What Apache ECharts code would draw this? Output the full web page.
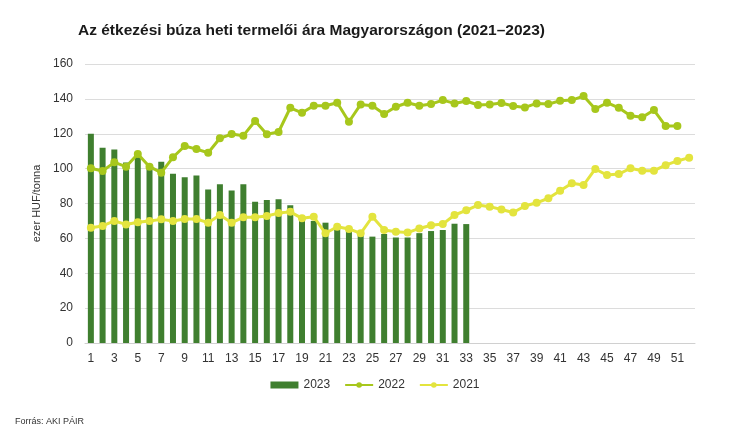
<!DOCTYPE html>
<html>
<head>
<meta charset="utf-8">
<script src="https://cdn.jsdelivr.net/npm/echarts@6/dist/echarts.min.js"></script>
<style>
html,body{margin:0;padding:0;background:#fff;}
#c{width:750px;height:442px;}
</style>
</head>
<body>
<div id="c"></div>
<script>
const weeks = Array.from({length: 52}, (_, i) => String(i + 1));
const yTicks = [0, 20, 40, 60, 80, 100, 120, 140, 160];
const s2023 = [120, 112, 111, 103.5, 108, 100.5, 104, 97, 95, 96, 88, 91, 87.5, 91, 81, 82, 82.5, 79, 72, 70, 69, 65.5, 64, 62, 61, 62.5, 60.5, 60.5, 63, 64.2, 64.8, 68.4, 68.2];
const s2022 = [100.2, 98.6, 103.6, 101.1, 108.4, 101.1, 97.7, 106.5, 113, 111.2, 109.1, 117.4, 119.8, 118.9, 127.3, 119.7, 121, 134.9, 132, 136.1, 136.1, 137.8, 126.9, 136.8, 136.1, 131.3, 135.5, 137.8, 136.1, 137, 139.3, 137.4, 138.8, 136.5, 136.8, 137.6, 135.9, 135.1, 137.4, 137, 138.9, 139.3, 141.6, 134.2, 137.8, 134.9, 130.3, 129.4, 133.6, 124.4, 124.4];
const s2021 = [66.1, 67.1, 70, 68, 69.2, 70, 70.9, 70, 71.1, 71.1, 69, 73.4, 69, 72.1, 72.1, 72.8, 74.5, 75.2, 71.5, 72.4, 62.9, 66.7, 65.4, 62.9, 72.4, 64.8, 63.8, 63.3, 65.7, 67.5, 68.2, 73.4, 76.1, 79.1, 78.2, 76.6, 74.8, 78.6, 80.4, 83, 87.3, 91.6, 90.6, 99.8, 96.3, 96.9, 100.2, 98.8, 98.8, 102, 104.4, 106.3];

const chart = echarts.init(document.getElementById('c'), null, {renderer: 'canvas'});
const font = 'Liberation Sans, Arial, sans-serif';
chart.setOption({
  animation: false,
  backgroundColor: '#ffffff',
  textStyle: {fontFamily: font},
  title: {
    text: 'Az étkezési búza heti termelői ára Magyarországon (2021–2023)',
    left: 73, top: 18,
    textStyle: {fontFamily: font, fontSize: 15.5, fontWeight: 'bold', color: '#1a1a1a'}
  },
  graphic: [{
    type: 'text', left: 15, top: 417,
    style: {text: 'Forrás: AKI PÁIR', fontFamily: font, fontSize: 9, fill: '#333'}
  }],
  legend: {
    bottom: 46, left: 'center',
    itemWidth: 28, itemHeight: 7, itemGap: 14,
    textStyle: {fontFamily: font, fontSize: 12, color: '#333'},
    data: [{name: '2023', icon: 'rect'}, {name: '2022'}, {name: '2021'}]
  },
  grid: {left: 85, right: 55, top: 64, bottom: 99, containLabel: false},
  xAxis: {
    type: 'category', data: weeks, boundaryGap: true,
    axisLine: {lineStyle: {color: '#d0d0d0', width: 1}},
    axisTick: {show: false},
    axisLabel: {interval: 1, color: '#333', fontSize: 12, fontFamily: font, margin: 10}
  },
  yAxis: {
    type: 'value', min: 0, max: 160, interval: 20,
    name: 'ezer HUF/tonna', nameLocation: 'middle', nameGap: 40,
    nameTextStyle: {fontFamily: font, fontSize: 11, color: '#333'},
    axisLine: {show: false}, axisTick: {show: false},
    axisLabel: {color: '#333', fontSize: 12, fontFamily: font, margin: 12,
      formatter: v => yTicks.includes(v) ? String(v) : ''},
    splitLine: {lineStyle: {color: '#dcdcdc', width: 1}}
  },
  series: [
    {name: '2023', type: 'bar', data: s2023, barWidth: 6,
      itemStyle: {color: '#3f7f2f'}, z: 1},
    {name: '2022', type: 'line', data: s2022, symbol: 'circle', symbolSize: 8, showAllSymbol: true,
      lineStyle: {color: '#a7c71c', width: 3}, itemStyle: {color: '#a7c71c'}, z: 3},
    {name: '2021', type: 'line', data: s2021, symbol: 'circle', symbolSize: 8, showAllSymbol: true,
      lineStyle: {color: '#e3e43e', width: 3}, itemStyle: {color: '#e3e43e'}, z: 2}
  ]
});
</script>
</body>
</html>
